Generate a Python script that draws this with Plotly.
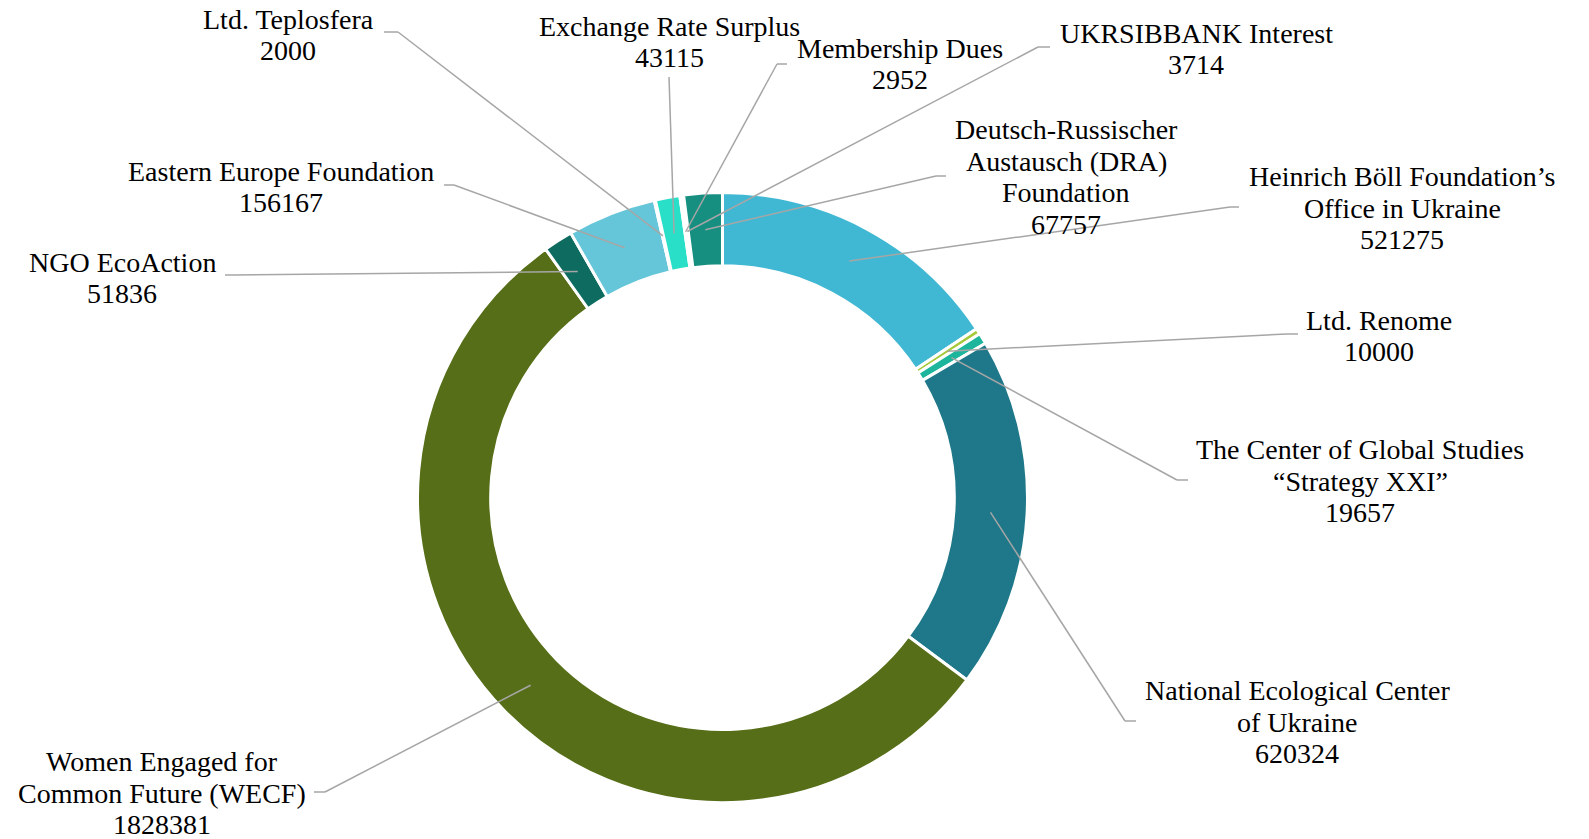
import math
import plotly.graph_objects as go

# ---------------- data ----------------
categories = [
    "Heinrich Böll Foundation’s Office in Ukraine",
    "Ltd. Renome",
    "The Center of Global Studies “Strategy XXI”",
    "National Ecological Center of Ukraine",
    "Women Engaged for Common Future (WECF)",
    "NGO EcoAction",
    "Eastern Europe Foundation",
    "Ltd. Teplosfera",
    "Exchange Rate Surplus",
    "Membership Dues",
    "UKRSIBBANK Interest",
    "Deutsch-Russischer Austausch (DRA) Foundation",
]
amounts = [521275, 10000, 19657, 620324, 1828381, 51836, 156167, 2000, 43115, 2952, 3714, 67757]
label_lines = [
    ["Heinrich Böll Foundation’s", "Office in Ukraine"],
    ["Ltd. Renome"],
    ["The Center of Global Studies", "“Strategy XXI”"],
    ["National Ecological Center", "of Ukraine"],
    ["Women Engaged for", "Common Future (WECF)"],
    ["NGO EcoAction"],
    ["Eastern Europe Foundation"],
    ["Ltd. Teplosfera"],
    ["Exchange Rate Surplus"],
    ["Membership Dues"],
    ["UKRSIBBANK Interest"],
    ["Deutsch-Russischer", "Austausch (DRA)", "Foundation"],
]

# ---------------- styles ----------------
slice_colors = ["#41B8D3", "#A4C93A", "#1DB69C", "#1F7889", "#566E17", "#0E6B5F",
                "#65C6DA", "#3E8E5E", "#2ADFC8", "#8FBC3F", "#2F6F8F", "#168F81"]

W, H = 1589, 839
PAGE_OFFSET = 8  # default body margin of the html page
CX, CY, R = 722.5, 497.6, 305.0
HOLE = 0.76
R_ANCHOR = R * (1 + HOLE) / 2
FONT_SIZE = 28
LINE_PITCH = 31.5
LEADER_COLOR = "#A6A6A6"

# label layout in page pixels: (label centre x, centre y, leader end x, end y, elbow x, elbow y)
label_layout = [
    (1402, 208, 1239, 207, 1230, 207),
    (1379, 336, 1298, 334, 1287, 334),
    (1360, 481, 1188, 480, 1177, 480),
    (1297, 722, 1136, 721, 1125, 721),
    (162, 793, 314, 792, 325, 792),
    (122, 278, 225, 275, 235, 275),
    (281, 187, 444, 185, 454, 185),
    (288, 35, 384, 32, 398, 32),
    (669, 42, 669, 77, 669, 77),
    (900, 64, 787, 64, 777, 64),
    (1196, 49, 1050, 47, 1038, 47),
    (1066, 177, 946, 176, 936, 176),
]


def px(x):
    return (x - PAGE_OFFSET) / W


def py(y):
    return 1 - (y - PAGE_OFFSET) / H


fig = go.Figure(go.Pie(
    labels=categories,
    values=amounts,
    sort=False,
    direction="clockwise",
    rotation=0,
    hole=HOLE,
    textinfo="none",
    marker=dict(colors=slice_colors, line=dict(color="white", width=3)),
    showlegend=False,
    domain=dict(x=[px(CX - R), px(CX + R)], y=[py(CY + R), py(CY - R)]),
))

total = sum(amounts)
cum = 0.0
shapes = []
annotations = []
for val, lines, lay in zip(amounts, label_lines, label_layout):
    theta = 2 * math.pi * (cum + val / 2) / total
    cum += val
    ax = CX + R_ANCHOR * math.sin(theta)
    ay = CY - R_ANCHOR * math.cos(theta)
    lx, ly, ex, ey, bx, by = lay
    line_style = dict(color=LEADER_COLOR, width=1.5)
    if (ex, ey) != (bx, by):
        shapes.append(dict(type="line", xref="paper", yref="paper",
                           x0=px(ex), y0=py(ey), x1=px(bx), y1=py(by), line=line_style))
    shapes.append(dict(type="line", xref="paper", yref="paper",
                       x0=px(bx), y0=py(by), x1=px(ax), y1=py(ay), line=line_style))
    all_lines = lines + [str(val)]
    n = len(all_lines)
    for i, t in enumerate(all_lines):
        yy = ly + (i - (n - 1) / 2) * LINE_PITCH
        annotations.append(dict(
            x=px(lx), y=py(yy), xref="paper", yref="paper",
            text=t, showarrow=False, xanchor="center", yanchor="middle",
            font=dict(family="Liberation Serif, Times New Roman, serif", size=FONT_SIZE, color="black"),
        ))

fig.update_layout(
    width=W, height=H,
    margin=dict(l=0, r=0, t=0, b=0),
    paper_bgcolor="white",
    plot_bgcolor="white",
    shapes=shapes,
    annotations=annotations,
)

fig.write_html("out.html")
